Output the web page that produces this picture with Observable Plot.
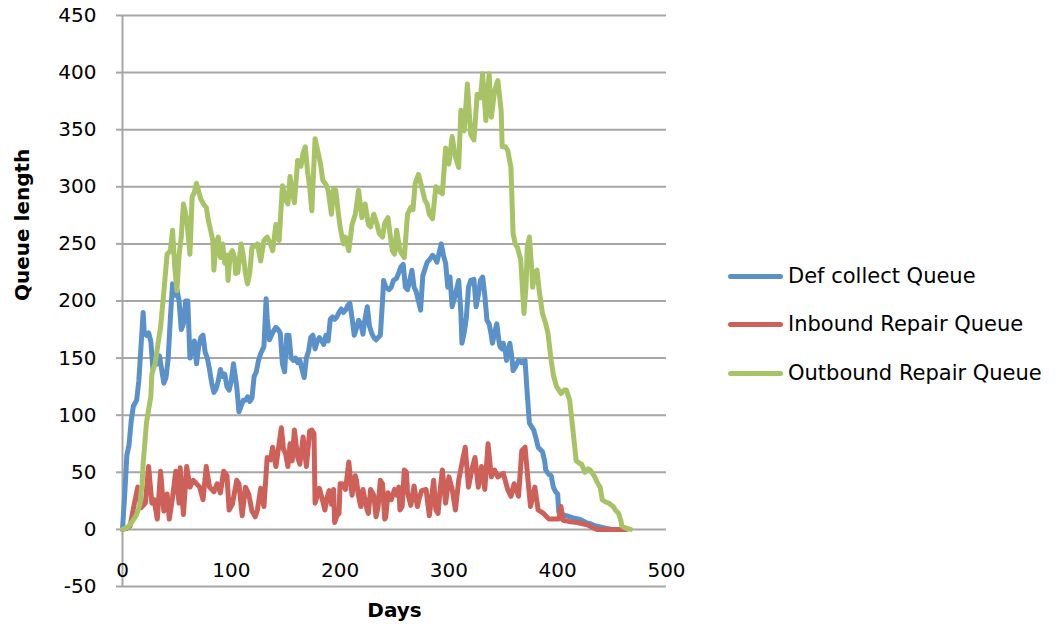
<!DOCTYPE html>
<html><head><meta charset="utf-8">
<script src="https://cdn.jsdelivr.net/npm/d3@7"></script>
<script src="https://cdn.jsdelivr.net/npm/@observablehq/plot@0.6"></script>
<style>
body{margin:0;background:#fff;}
#wrap{position:relative;width:1055px;height:631px;font-family:"DejaVu Sans",sans-serif;}
.item{position:absolute;left:728px;height:26px;display:flex;align-items:center;white-space:nowrap;font-size:21px;color:#000;}
.sw{width:55px;height:5px;border-radius:3px;margin-right:5px;}
</style></head><body><div id="wrap"></div>
<script>
const seriesNames = ["Def collect Queue", "Inbound Repair Queue", "Outbound Repair Queue"];
const seriesColors = ["#5a91c8", "#cd6058", "#a7c366"];
const xTicks = [0, 100, 200, 300, 400, 500];
const yTicks = [-50, 0, 50, 100, 150, 200, 250, 300, 350, 400, 450];

const defDays = [0,2,4,6,8,10,13,15,17,19,20,22,24,26,28,30,32,34,36,38,40,42,44,46,48,50,52,54,56,58,60,62,64,66,68,70,72,74,76,78,80,82,84,86,88,90,92,94,96,98,100,102,105,107,109,111,113,115,117,119,121,123,125,127,130,132,133,135,137,139,141,143,145,147,149,151,153,155,157,159,161,163,165,167,169,171,173,175,177,179,181,183,185,187,189,191,193,195,197,199,201,203,205,207,209,211,213,215,217,219,221,223,225,227,229,231,233,235,237,239,240,242,245,247,249,252,254,256,258,260,262,264,266,268,270,272,274,276,278,280,282,285,287,289,291,293,295,297,299,301,303,305,307,309,311,312,314,316,318,320,323,325,327,329,331,333,335,337,339,340,342,344,346,347,349,350,352,353,355,356,358,359,361,364,367,370,372,374,376,378,380,382,384,386,388,389,392,394,396,398,400,401,404,408,414,420,426,430,435,440,444,450,456];
const defVals = [0,30,65,74,95,108,113,130,160,190,172,170,172,165,140,150,145,152,140,128,133,150,185,215,205,210,200,175,180,200,200,150,158,165,145,160,168,170,155,150,140,128,120,123,130,140,134,136,125,122,130,145,125,103,108,113,113,116,112,115,134,138,148,154,160,202,185,166,170,174,177,175,172,145,138,170,170,150,148,150,146,148,140,133,150,156,168,170,158,165,168,165,162,170,165,184,186,184,186,190,193,190,192,196,198,185,170,176,183,180,171,185,195,178,172,168,166,168,170,200,218,212,210,212,218,220,225,230,232,212,210,218,227,212,208,200,192,222,228,234,236,240,238,234,242,250,240,233,212,221,195,202,210,218,190,163,172,185,212,218,219,195,205,218,221,205,183,180,170,163,172,180,165,160,158,163,155,148,158,163,150,139,142,148,146,148,119,93,90,87,80,72,70,68,60,52,48,47,37,33,31,15,13,12,10,9,6,5,3,2,1,0,0];

const inbDays = [0,4,7,11,14,17,21,24,27,29,32,35,38,41,43,46,49,52,53,56,59,62,65,68,71,74,77,80,84,87,90,93,96,98,101,105,107,110,113,116,119,122,124,127,130,133,136,138,141,146,148,150,152,154,156,158,161,163,166,169,172,174,176,177,181,184,186,188,190,192,194,195,197,199,200,202,205,208,211,214,215,217,219,221,224,226,228,231,233,235,237,239,241,242,244,247,250,252,254,255,257,259,261,262,265,268,271,273,275,279,282,286,288,290,292,294,297,300,303,306,309,312,315,318,321,324,327,330,333,336,339,342,345,350,354,357,360,364,367,370,373,375,379,382,387,392,397,401,403,405,410,418,427,436,463];
const inbVals = [0,1,3,23,37,19,23,55,23,26,9,51,16,31,9,28,51,23,54,13,55,37,43,40,37,26,55,37,33,40,32,51,47,17,22,43,40,12,37,31,16,11,17,36,20,63,61,72,55,89,70,66,55,75,60,87,63,57,81,55,86,87,84,23,36,25,17,28,34,22,35,6,12,14,40,40,35,59,30,47,43,29,20,35,20,14,35,30,11,20,43,40,9,11,32,26,35,30,37,17,20,52,50,32,21,38,20,28,34,35,12,43,17,14,35,52,23,46,35,17,43,58,72,37,52,63,37,55,35,75,46,52,46,49,35,29,40,29,69,72,40,20,37,17,14,9,9,9,20,8,7,6,4,0,0];

const outDays = [0,5,9,13,16,18,19,22,24,26,27,30,33,35,38,41,44,46,48,50,52,54,56,59,62,64,66,68,70,72,75,77,79,81,83,84,86,88,90,92,94,96,97,99,101,103,104,106,109,111,113,115,117,119,122,124,127,130,133,136,138,141,144,147,150,152,154,156,158,161,164,166,168,170,172,174,177,180,182,184,187,189,192,194,196,198,200,203,205,208,211,214,217,220,223,226,228,231,234,236,239,241,244,246,248,250,252,255,259,262,265,267,269,272,275,278,280,282,285,288,291,294,297,300,303,306,309,311,314,317,320,323,326,329,331,334,337,339,342,345,348,349,352,354,357,359,361,363,366,369,371,372,374,376,377,379,381,383,386,389,391,394,396,399,403,406,408,411,414,417,420,422,425,428,430,434,437,439,441,444,447,451,453,456,458,459,463,467];
const outVals = [0,2,7,13,22,40,58,93,105,116,136,145,165,177,208,241,244,262,230,209,240,256,285,272,241,291,295,303,296,289,284,282,270,262,253,227,250,256,238,250,233,240,218,241,244,238,224,225,250,240,224,215,225,247,248,250,235,253,256,250,244,267,253,301,288,285,309,295,286,323,318,330,335,314,300,279,342,329,320,306,302,297,276,298,297,280,265,250,256,244,267,276,297,273,285,267,265,276,267,259,256,268,273,258,244,241,262,244,238,276,282,280,303,311,300,288,285,276,272,300,296,294,334,320,344,326,317,367,349,390,346,341,381,378,399,358,399,361,384,393,367,335,335,332,317,259,250,247,236,189,215,247,256,230,212,225,227,209,189,180,172,148,135,125,119,122,122,113,87,60,58,57,50,53,52,46,40,37,26,24,23,20,17,14,8,3,1,0];

const seriesDays = [defDays, inbDays, outDays];
const seriesVals = [defVals, inbVals, outVals];
const rows = seriesNames.flatMap((name, i) =>
  seriesDays[i].map((d, j) => ({series: name, day: d, value: seriesVals[i][j]})));

const grid = "#a6a6a6";
const chart = Plot.plot({
  width: 1055, height: 631,
  marginLeft: 122, marginRight: 389, marginTop: 15, marginBottom: 45,
  x: {domain: [0, 500]},
  y: {domain: [-50, 450]},
  color: {domain: seriesNames, range: seriesColors},
  style: {fontFamily: "DejaVu Sans, sans-serif", fontSize: "20px", color: "#000", background: "#fff", overflow: "visible"},
  marks: [
    Plot.ruleY(yTicks, {stroke: grid, strokeWidth: 2}),
    Plot.ruleX([0], {stroke: grid, strokeWidth: 2}),
    Plot.axisY(yTicks, {tickSize: 6, stroke: grid, strokeWidth: 2, strokeOpacity: 1, tickFormat: () => "", label: null}),
    Plot.axisY(yTicks, {tickSize: 0, tickPadding: 26, label: null, fill: "#000", tickFormat: d => String(d)}),
    Plot.axisX(xTicks, {tickSize: 0, tickPadding: -24, label: null, fill: "#000", tickFormat: d => String(d)}),
    Plot.line(rows, {x: "day", y: "value", z: "series", stroke: "series", strokeWidth: 5,
      strokeLinejoin: "round", strokeLinecap: "round"}),
    Plot.text(["Queue length"], {text: d => d, frameAnchor: "left", rotate: -90, dx: -100, fontWeight: "bold", fontSize: 20, fill: "#000"}),
    Plot.text(["Days"], {text: d => d, frameAnchor: "bottom", dy: 30, fontWeight: "bold", fontSize: 20, fill: "#000"})
  ]
});
const wrap = document.getElementById("wrap");
wrap.appendChild(chart);
const legendCenters = [276, 324, 373];
seriesNames.forEach((name, i) => {
  const item = document.createElement("div");
  item.className = "item";
  item.style.top = (legendCenters[i] - 13) + "px";
  const sw = document.createElement("span");
  sw.className = "sw";
  sw.style.background = seriesColors[i];
  const label = document.createElement("span");
  label.textContent = name;
  item.appendChild(sw);
  item.appendChild(label);
  wrap.appendChild(item);
});
</script>
</body></html>
